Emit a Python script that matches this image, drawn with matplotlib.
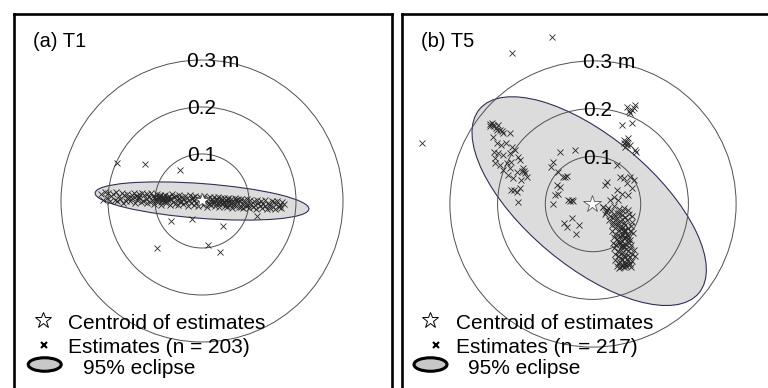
import matplotlib.pyplot as plt
from matplotlib.patches import Circle, Ellipse
import numpy as np

plt.rcParams['font.family'] = ['Liberation Sans', 'DejaVu Sans']

# distance rings around the true position (m)
rings = [0.1, 0.2, 0.3]
ring_labels = ['0.1', '0.2', '0.3 m']

# ---- T1: position estimates relative to the true position (cm) ----
t1_band_x = [
    -21.4, -21.0, -20.7, -20.3, -20.0, -19.6, -19.3, -19.0, -18.6, -18.3,
    -18.0, -17.7, -17.4, -17.1, -16.8, -16.5, -16.2, -15.9, -15.6, -15.3,
    -15.0, -14.8, -14.5, -14.3, -14.0, -13.8, -13.5, -13.3, -13.0, -12.8,
    -12.5, -12.3, -12.0, -11.8, -11.6, -11.3, -11.1, -10.9, -10.6, -10.4,
    -10.2, -10.0, -9.8, -9.5, -9.3, -9.1, -8.9, -8.7, -8.4, -8.2,
    -8.0, -7.8, -7.6, -7.4, -7.2, -7.0, -6.8, -6.6, -6.4, -6.2,
    -6.0, -5.8, -5.6, -5.4, -5.2, -5.0, -4.8, -4.6, -4.4, -4.2,
    -4.0, -3.8, -3.6, -3.4, -3.2, -3.0, -2.8, -2.6, -2.4, -2.2,
    -2.0, -1.8, -1.6, -1.4, -1.2, -1.0, -0.8, -0.6, -0.4, -0.2,
    0.0, 0.2, 0.4, 0.6, 0.8, 1.0, 1.2, 1.4, 1.6, 1.8,
    2.0, 2.2, 2.4, 2.6, 2.8, 3.0, 3.2, 3.4, 3.6, 3.8,
    4.0, 4.2, 4.4, 4.6, 4.8, 5.0, 5.2, 5.4, 5.6, 5.8,
    6.0, 6.2, 6.4, 6.6, 6.8, 7.0, 7.2, 7.4, 7.6, 7.8,
    8.0, 8.2, 8.4, 8.6, 8.8, 9.0, 9.2, 9.4, 9.6, 9.8,
    10.0, 10.3, 10.5, 10.8, 11.0, 11.3, 11.5, 11.8, 12.0, 12.3,
    12.5, 12.8, 13.0, 13.3, 13.5, 13.8, 14.0, 14.3, 14.5, 14.8,
    15.0, 15.3, 15.5, 15.8, 16.0, 16.3, 16.5, 16.8, 17.0, 17.5,
    -10.1, -9.6, -9.0, -8.5, -8.1, -7.7, -7.3, -6.9, -9.4, -8.8,
    2.5, 3.1, 3.7, 4.3, 4.9, 5.5, 6.1, 6.7, 7.3, 5.1,
    -16.0, -13.6, 0.9,
]
t1_band_y = [
    1.4, 0.2, 2.0, 0.7, 1.7, -0.1, 1.0, 1.5, 0.3, 2.0,
    -0.1, 1.1, 0.4, 1.6, -0.4, 1.2, 0.1, 1.5, 0.7, -0.1,
    1.3, 0.6, 1.8, -0.4, 1.0, 0.2, 1.5, 0.9, -0.2, 1.7,
    0.1, 1.2, 0.5, -0.5, 1.4, 0.8, -0.2, 1.6, 0.3, 1.0,
    -0.6, 0.9, 0.2, 1.4, -0.3, 0.6, 1.2, -0.8, 0.4, 1.0,
    0.0, 1.3, -0.5, 0.7, 0.2, 1.1, -0.9, 0.5, 1.4, -0.2,
    0.8, -0.6, 1.1, 0.3, -0.9, 0.6, 1.2, -0.3, 0.1, 0.9,
    -0.7, 0.5, 1.0, -0.2, 0.7, -1.0, 0.3, 1.2, -0.5, 0.4,
    0.9, -0.8, 0.2, 1.1, -0.4, 0.6, -1.1, 0.3, 0.8, -0.2,
    0.5, -0.9, 1.0, -0.3, 0.2, -1.2, 0.7, -0.6, 0.1, 0.9,
    -0.8, 0.4, -0.1, 0.8, -1.0, 0.2, -0.5, 0.9, -1.2, 0.0,
    0.6, -0.7, -0.2, 0.7, -1.1, 0.3, -0.5, -1.3, 0.5, -0.3,
    -0.9, 0.4, -1.4, 0.1, -0.6, 0.7, -1.0, -0.2, 0.5, -1.3,
    -0.1, -1.2, 0.4, -0.7, -1.5, 0.2, -0.4, -1.1, 0.5, -0.8,
    -1.4, 0.3, -0.6, -1.2, 0.1, -0.9, -1.6, 0.2, -0.5, -1.1,
    0.0, -1.5, -0.7, -1.1, 0.3, -1.7, -0.4, -0.9, -1.4, 0.1,
    -1.2, -0.3, -1.6, -0.7, 0.0, -1.3, -0.8, -1.5, -0.2, -0.6,
    0.5, 0.0, 1.0, 0.2, 0.7, -0.1, 0.9, 0.4, 0.8, -0.2,
    -0.4, 0.5, -0.6, 0.2, -0.2, 0.6, -0.5, -0.9, 0.2, -0.8,
    0.6, 0.9, 0.3,
]
t1_out_x = [-18.1, -12.1, -4.7, -6.6, -2.1, 4.5, 11.7, -9.6, 1.3, 3.8]
t1_out_y = [8.1, 7.9, 6.6, -4.3, -3.8, -5.3, -3.2, -10.0, -9.4, -10.9]
t1_centroid = (0.0, 0.2)
# 95% ellipse: centre, full width, full height (cm), angle (deg)
t1_ell_xy = (0.0, 0.0)
t1_ell_w, t1_ell_h, t1_ell_angle = 45.6, 7.4, -4.3

# ---- T5 ----
t5_far_x = [-8.6, -17.0, -35.8]
t5_far_y = [35.0, 31.7, 12.8]
t5_nw_x = [
    -21.5, -20.8, -19.9, -19.4, -18.8, -17.5, -20.9, -20.2, -19.2, -18.2,
    -20.8, -19.9, -18.8, -17.4, -16.4, -20.6, -19.5, -18.1, -17.1, -15.3,
    -18.8, -17.4, -16.0, -14.6, -14.3, -13.9, -15.0, -17.1, -16.0, -15.3,
    -15.7, -17.8, -16.7, -20.6, -21.6, -21.2, -20.2, -21.0, -20.4, -14.8,
    -14.5, -16.5, -19.0, -15.8, -17.0,
]
t5_nw_y = [
    16.8, 16.3, 16.5, 15.6, 14.8, 14.8, 14.1, 12.7, 12.4, 12.8,
    11.0, 10.6, 10.3, 10.7, 11.3, 8.5, 8.2, 8.5, 8.8, 9.2,
    7.1, 7.5, 6.8, 7.5, 6.4, 5.7, 5.0, 2.9, 2.6, 3.3,
    0.5, 6.1, 5.4, 9.6, 16.3, 17.0, 15.5, 16.6, 16.0, 6.9,
    7.0, 2.9, 15.2, 9.8, 12.0,
]
t5_ne_x = [7.1, 8.2, 8.9, 7.8, 6.1, 8.2, 6.4, 7.1, 7.4, 7.8,
           6.8, 8.9, 6.5, 7.0, 7.2, 9.0, 7.5, 8.5]
t5_ne_y = [20.4, 19.7, 20.8, 19.0, 16.6, 16.9, 13.4, 12.7, 13.8, 12.4,
           12.0, 11.3, 12.8, 13.1, 12.4, 10.9, 19.6, 20.2]
t5_mid_x = [-6.9, -3.8, -8.3, -7.3, -6.2, -5.9, -5.5, -7.6, -6.9, -8.0,
            -8.3, -5.2, -4.8, -4.4, -4.1, -7.3, -4.4, -5.5, -3.5, 5.0,
            -8.8, -6.0, -3.0]
t5_mid_y = [11.0, 11.3, 8.9, 6.8, 5.7, 5.6, 5.8, 4.0, 3.6, 1.9,
            0.1, 0.8, 0.7, 0.9, 0.6, 2.2, -3.0, -4.8, -6.2, 8.2,
            7.8, -3.9, -4.4]
t5_east_x = [2.9, 2.6, 5.7, 6.4, 7.8, 8.5, 7.1, 5.0, 6.1, 4.3,
             3.6, 5.3, 2.2, 2.9, 7.4, 8.2]
t5_east_y = [4.7, 4.0, 5.7, 5.4, 5.7, 5.0, 4.3, 2.9, 2.2, 1.5,
             0.8, 0.8, -0.6, -1.3, 1.9, 3.3]
t5_se_x = [
    2.1, 3.2, 4.5, 5.5, 6.6, 2.7, 3.8, 5.1, 6.2, 7.4,
    2.6, 3.6, 4.4, 5.1, 6.0, 6.7, 7.5, 8.2, 4.1, 5.5,
    3.3, 4.2, 4.9, 5.3, 5.7, 6.4, 7.2, 8.1, 4.6, 6.1,
    3.9, 4.6, 5.3, 5.9, 6.3, 6.8, 7.4, 8.0, 5.6, 6.6,
    4.0, 4.7, 5.4, 6.0, 6.4, 7.1, 7.7, 8.4, 5.2, 6.8,
    4.3, 5.0, 5.6, 6.1, 6.6, 7.3, 7.8, 5.3, 6.3, 7.4,
    4.2, 4.9, 5.4, 6.0, 6.7, 7.3, 8.0, 5.7, 6.4, 7.5,
    4.5, 5.2, 5.9, 6.3, 7.0, 7.7, 8.5, 5.4, 6.6, 7.4,
    4.6, 5.3, 6.0, 6.7, 7.3, 8.1, 5.7, 6.4, 7.7, 8.8,
    4.7, 5.6, 6.1, 6.8, 7.4, 8.2, 5.2, 6.4, 7.1, 7.8,
    5.0, 5.7, 6.3, 7.0, 7.5, 5.4, 6.6, 7.3, 6.0, 8.0,
    6.7, 6.1,
]
t5_se_y = [
    -0.6, -0.9, -0.5, -1.1, -0.8, -1.6, -1.4, -1.8, -1.5, -1.2,
    -2.2, -2.6, -2.0, -2.9, -2.3, -2.7, -2.1, -2.5, -3.0, -1.9,
    -3.3, -3.8, -3.2, -4.0, -3.5, -3.9, -3.4, -3.7, -4.2, -3.1,
    -4.5, -5.1, -4.4, -5.3, -4.8, -4.3, -5.0, -4.6, -4.9, -5.4,
    -5.7, -6.2, -5.5, -6.5, -5.9, -6.3, -5.6, -6.0, -6.4, -5.5,
    -6.9, -7.4, -6.7, -7.7, -7.1, -6.8, -7.5, -7.8, -6.6, -7.3,
    -8.1, -8.6, -7.9, -8.9, -8.3, -8.0, -8.7, -8.4, -8.8, -8.2,
    -9.3, -9.8, -9.1, -10.1, -9.5, -9.2, -9.7, -10.0, -9.0, -9.9,
    -10.5, -11.0, -10.3, -11.2, -10.6, -10.4, -11.4, -10.8, -11.1, -10.9,
    -11.7, -12.2, -11.6, -12.5, -11.9, -12.0, -12.4, -12.1, -11.5, -12.6,
    -12.9, -13.3, -12.7, -13.1, -12.8, -13.4, -13.2, -12.6, -13.0, -13.2,
    -7.0, -8.5,
]
t5_centroid = (-0.2, 0.0)
t5_ell_xy = (-0.8, 0.6)
t5_ell_w, t5_ell_h, t5_ell_angle = 60.0, 27.0, -40.0

t1_x = np.array(t1_band_x + t1_out_x) / 100
t1_y = np.array(t1_band_y + t1_out_y) / 100
t5_x = np.array(t5_far_x + t5_nw_x + t5_ne_x + t5_mid_x + t5_east_x + t5_se_x) / 100
t5_y = np.array(t5_far_y + t5_nw_y + t5_ne_y + t5_mid_y + t5_east_y + t5_se_y) / 100

W, H = 768, 388
fig = plt.figure(figsize=(W / 100, H / 100), dpi=100)
PW, PTOP, PBOT = 378, 14, 400   # panel box in pixels


def panel(left, centre, scale, title, xs, ys, centroid, ell, star_ms,
          label_dx, leg):
    ax = fig.add_axes([left / W, 1 - PBOT / H, PW / W, (PBOT - PTOP) / H])
    cx, cy = centre
    ax.set_xlim((left - cx) / scale, (left + PW - cx) / scale)
    ax.set_ylim((cy - PBOT) / scale, (cy - PTOP) / scale)
    ax.set_xticks([])
    ax.set_yticks([])
    for side in ['left', 'right', 'top']:
        ax.spines[side].set_linewidth(1.9)
    ax.spines['bottom'].set_visible(False)

    def frac(px, py):
        return (px - left) / PW, (PBOT - py) / (PBOT - PTOP)

    (ex, ey), ew, eh, ea = ell
    ax.add_patch(Ellipse((ex / 100, ey / 100), ew / 100, eh / 100, angle=ea,
                         facecolor='#dcdcdc', edgecolor='#30305a', lw=0.8, zorder=1))
    for r, lab in zip(rings, ring_labels):
        ax.add_patch(Circle((0, 0), r, fill=False, edgecolor='#505050',
                            lw=0.7, zorder=2))
        ax.text(label_dx, r - 7.5 / scale, lab, fontsize=15, ha='left',
                va='baseline', zorder=5)
    ax.plot(xs, ys, ls='none', marker='x', ms=4.6, mew=0.6,
            color='#262626', zorder=3)
    ax.plot(centroid[0] / 100, centroid[1] / 100, ls='none', marker='*',
            ms=star_ms, mfc='white', mec='#555555', mew=0.6, zorder=4)

    ax.text(*frac(left + 19, 47.5), title, transform=ax.transAxes,
            fontsize=14.5, va='baseline')

    star_x, cross_x, text_x, ell_x, ell_text_x = leg
    ax.plot(*frac(star_x, 320.5), transform=ax.transAxes, marker='*', ms=12,
            mfc='white', mec='black', mew=0.7, clip_on=False)
    ax.text(*frac(text_x, 329.3), 'Centroid of estimates', transform=ax.transAxes,
            fontsize=15, va='baseline')
    ax.plot(*frac(cross_x, 345), transform=ax.transAxes, marker='x', ms=5,
            mew=1.5, color='black', clip_on=False)
    ax.text(*frac(text_x, 352.7), f'Estimates (n = {len(xs)})',
            transform=ax.transAxes, fontsize=15, va='baseline')
    ax.add_patch(Ellipse(frac(ell_x, 364.5), 33 / PW, 13.5 / (PBOT - PTOP),
                         transform=ax.transAxes, facecolor='#c8c8c8',
                         edgecolor='black', lw=2.2, clip_on=False))
    ax.text(*frac(ell_text_x, 374.3), '95% eclipse', transform=ax.transAxes,
            fontsize=15, va='baseline')
    return ax


panel(14, (202, 201), 470, '(a) T1', t1_x, t1_y, t1_centroid,
      (t1_ell_xy, t1_ell_w, t1_ell_h, t1_ell_angle), 10, -0.031,
      (43, 43.7, 68.3, 44.7, 83.3))
panel(402, (593, 204), 477, '(b) T5', t5_x, t5_y, t5_centroid,
      (t5_ell_xy, t5_ell_w, t5_ell_h, t5_ell_angle), 13, -0.021,
      (430.3, 435.7, 456.5, 430.5, 468.3))

fig.savefig('out.png', dpi=100)
